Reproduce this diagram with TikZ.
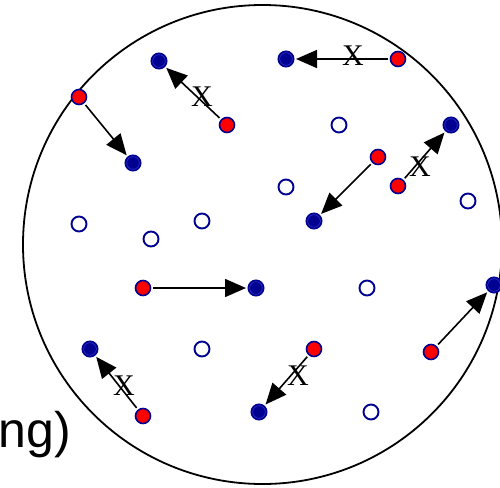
\documentclass[tikz,border=0pt]{standalone}
\usepackage{fontspec}
\setmainfont{Liberation Serif}
\newfontfamily\arialf{Liberation Sans}
\usetikzlibrary{arrows.meta}
\definecolor{dkblue}{RGB}{0,0,145}
\definecolor{ringblue}{RGB}{40,40,190}
\begin{document}
\begin{tikzpicture}[x=1pt,y=-1pt,
 rdot/.style={circle,minimum size=15pt,inner sep=0pt,line width=1.6pt,draw=dkblue,fill=red},
 bdot/.style={circle,minimum size=15.5pt,inner sep=0pt,line width=1.5pt,draw=dkblue,fill=dkblue,
   path picture={\draw[ringblue,line width=0.9pt] (path picture bounding box.center) circle (6.4pt);}},
 odot/.style={circle,minimum size=15pt,inner sep=0pt,line width=1.9pt,draw=dkblue,fill=white},
 arr/.style={line width=1.6pt,-{Triangle[length=21pt,width=18pt]},shorten <=2pt,shorten >=1.5pt},
 xlab/.style={font=\fontsize{30}{30}\selectfont,inner sep=0pt},
 disk/.style={circle,draw,line width=1.8pt,minimum size=479pt,inner sep=0pt}]
\useasboundingbox (0,0) rectangle (500,487);
\node[disk] (rim) at (262.5,244.5) {};
\node[anchor=base west,inner sep=0pt,font=\arialf\fontsize{50}{50}\selectfont] (txt) at (-1.5,447) {ng)};
% open dots
\node[odot] (o1) at (79,224) {};
\node[odot] (o2) at (151,239) {};
\node[odot] (o3) at (202,221) {};
\node[odot] (o4) at (339,125) {};
\node[odot] (o5) at (286,187) {};
\node[odot] (o6) at (468,201) {};
\node[odot] (o7) at (202,349) {};
\node[odot] (o8) at (367,288) {};
\node[odot] (o9) at (371,412) {};
% red dots
\node[rdot] (r1) at (79,97) {};
\node[rdot] (r2) at (227,125) {};
\node[rdot] (r3) at (398,59) {};
\node[rdot] (r4) at (398,186) {};
\node[rdot] (r5) at (378,157) {};
\node[rdot] (r6) at (143,288) {};
\node[rdot] (r7) at (143,416) {};
\node[rdot] (r8) at (314,349) {};
\node[rdot] (r9) at (431,352) {};
% blue dots
\node[bdot] (b1) at (133,163) {};
\node[bdot] (b2) at (159,61) {};
\node[bdot] (b3) at (286,59) {};
\node[bdot] (b4) at (451,125) {};
\node[bdot] (b5) at (314,221) {};
\node[bdot] (b6) at (256,288) {};
\node[bdot] (b7) at (90,349) {};
\node[bdot] (b8) at (259,412) {};
\node[bdot] (b9) at (494,285) {};
% arrows
\foreach \i in {1,...,9} {\draw[arr] (r\i) -- (b\i);}
% crosses
\node[xlab] (x2) at (202,97) {X};
\node[xlab] (x3) at (353,56) {X};
\node[xlab] (x4) at (420,167) {X};
\node[xlab] (x7) at (124,386) {X};
\node[xlab] (x8) at (298,376) {X};
\end{tikzpicture}
\end{document}
